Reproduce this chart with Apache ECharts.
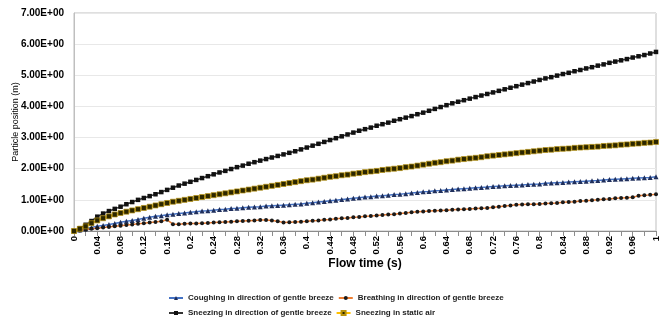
<!DOCTYPE html>
<html>
<head>
<meta charset="utf-8">
<script src="https://cdn.jsdelivr.net/npm/echarts@6/dist/echarts.min.js"></script>
<style>
  html, body { margin: 0; padding: 0; background: #fff; }
  #chart { width: 667px; height: 321px; }
</style>
</head>
<body>
<div id="chart"></div>
<script>
// Flow time (s), sampled every 0.01 s
const flowTime = [];
for (let i = 0; i <= 100; i++) flowTime.push(String(+(i / 100).toFixed(2)));

// Particle position (m) for each case
const coughingBreeze = [
  0, 0.03, 0.07, 0.11, 0.15, 0.18, 0.21, 0.24, 0.28, 0.31,
  0.34, 0.37, 0.41, 0.44, 0.47, 0.49, 0.52, 0.54, 0.56, 0.58,
  0.60, 0.62, 0.64, 0.65, 0.67, 0.69, 0.70, 0.72, 0.73, 0.75,
  0.76, 0.77, 0.78, 0.80, 0.81, 0.82, 0.83, 0.84, 0.86, 0.87,
  0.89, 0.91, 0.93, 0.95, 0.97, 0.99, 1.01, 1.03, 1.05, 1.07,
  1.09, 1.10, 1.12, 1.13, 1.15, 1.17, 1.18, 1.20, 1.22, 1.24,
  1.26, 1.27, 1.29, 1.30, 1.32, 1.33, 1.35, 1.36, 1.37, 1.39,
  1.40, 1.41, 1.43, 1.44, 1.45, 1.46, 1.47, 1.48, 1.49, 1.50,
  1.51, 1.53, 1.54, 1.55, 1.56, 1.57, 1.58, 1.59, 1.60, 1.61,
  1.62, 1.64, 1.65, 1.66, 1.67, 1.68, 1.69, 1.70, 1.71, 1.72,
  1.74
];
const breathingBreeze = [
  0, 0.02, 0.04, 0.07, 0.09, 0.11, 0.13, 0.15, 0.17, 0.19,
  0.21, 0.23, 0.25, 0.27, 0.29, 0.31, 0.36, 0.22, 0.22, 0.23,
  0.24, 0.24, 0.25, 0.26, 0.27, 0.28, 0.29, 0.30, 0.31, 0.32,
  0.33, 0.34, 0.35, 0.35, 0.34, 0.31, 0.27, 0.28, 0.29, 0.30,
  0.31, 0.33, 0.34, 0.36, 0.37, 0.39, 0.41, 0.42, 0.44, 0.45,
  0.47, 0.48, 0.50, 0.51, 0.53, 0.54, 0.56, 0.58, 0.60, 0.62,
  0.63, 0.64, 0.65, 0.66, 0.67, 0.68, 0.69, 0.70, 0.71, 0.72,
  0.73, 0.74, 0.76, 0.78, 0.80, 0.82, 0.84, 0.85, 0.86, 0.86,
  0.87, 0.88, 0.89, 0.90, 0.92, 0.93, 0.94, 0.96, 0.97, 0.99,
  1.00, 1.02, 1.03, 1.05, 1.06, 1.07, 1.08, 1.13, 1.15, 1.16,
  1.18
];
const sneezingBreeze = [
  0, 0.09, 0.20, 0.32, 0.46, 0.56, 0.64, 0.71, 0.78, 0.86,
  0.93, 1.00, 1.06, 1.12, 1.18, 1.25, 1.32, 1.39, 1.46, 1.52,
  1.58, 1.64, 1.70, 1.76, 1.82, 1.88, 1.93, 1.99, 2.05, 2.10,
  2.16, 2.21, 2.26, 2.31, 2.36, 2.41, 2.46, 2.51, 2.56, 2.62,
  2.68, 2.74, 2.80, 2.86, 2.92, 2.98, 3.04, 3.10, 3.16, 3.22,
  3.27, 3.32, 3.38, 3.43, 3.48, 3.54, 3.59, 3.64, 3.69, 3.75,
  3.80, 3.86, 3.92, 3.98, 4.04, 4.10, 4.15, 4.20, 4.25, 4.30,
  4.35, 4.40, 4.45, 4.50, 4.55, 4.60, 4.65, 4.70, 4.75, 4.80,
  4.85, 4.90, 4.94, 4.99, 5.04, 5.08, 5.13, 5.17, 5.22, 5.26,
  5.31, 5.35, 5.40, 5.44, 5.48, 5.52, 5.57, 5.61, 5.65, 5.70,
  5.75
];
const sneezingStatic = [
  0, 0.07, 0.15, 0.25, 0.34, 0.41, 0.47, 0.53, 0.58, 0.62,
  0.66, 0.70, 0.74, 0.78, 0.82, 0.86, 0.90, 0.94, 0.97, 1.00,
  1.03, 1.06, 1.09, 1.12, 1.15, 1.18, 1.21, 1.24, 1.27, 1.30,
  1.33, 1.36, 1.39, 1.42, 1.45, 1.48, 1.51, 1.54, 1.57, 1.60,
  1.63, 1.65, 1.68, 1.71, 1.74, 1.76, 1.79, 1.81, 1.84, 1.86,
  1.89, 1.91, 1.93, 1.96, 1.98, 2.00, 2.02, 2.05, 2.07, 2.10,
  2.13, 2.16, 2.19, 2.21, 2.24, 2.26, 2.29, 2.31, 2.33, 2.35,
  2.37, 2.40, 2.42, 2.44, 2.46, 2.48, 2.50, 2.52, 2.54, 2.56,
  2.58, 2.60, 2.61, 2.63, 2.64, 2.65, 2.67, 2.68, 2.69, 2.70,
  2.71, 2.73, 2.74, 2.75, 2.77, 2.78, 2.80, 2.81, 2.83, 2.84,
  2.86
];

const seriesNames = [
  'Coughing in direction of gentle breeze',
  'Breathing in direction of gentle breeze',
  'Sneezing in direction of gentle breeze',
  'Sneezing in static air'
];

const FONT = '"Liberation Sans", Arial, sans-serif';

const chart = echarts.init(document.getElementById('chart'), null, { renderer: 'canvas' });

function lineSeries(name, data, lineColor, symbol, size, fill, border, borderWidth) {
  return {
    name: name,
    type: 'line',
    data: data,
    symbol: symbol,
    symbolSize: size,
    showSymbol: true,
    showAllSymbol: true,
    animation: false,
    lineStyle: { color: lineColor, width: 1.5 },
    itemStyle: { color: fill, borderColor: border, borderWidth: border ? borderWidth : 0 }
  };
}

const legendText = { fontFamily: FONT, fontSize: 8, fontWeight: 'bold', color: '#222' };

chart.setOption({
  backgroundColor: '#ffffff',
  animation: false,
  grid: {
    left: 74, right: 11, top: 13, bottom: 90,
    containLabel: false,
    outerBoundsMode: 'none',
    show: true, borderColor: '#bfbfbf', borderWidth: 1
  },
  legend: [
    {
      data: [seriesNames[0], seriesNames[1]],
      left: 163, top: 289,
      itemWidth: 14, itemHeight: 5, itemGap: 4,
      textStyle: legendText
    },
    {
      data: [seriesNames[2], seriesNames[3]],
      left: 163, top: 304,
      itemWidth: 14, itemHeight: 5, itemGap: 4,
      textStyle: legendText
    }
  ],
  xAxis: {
    type: 'category',
    data: flowTime,
    boundaryGap: false,
    name: 'Flow time (s)',
    nameLocation: 'middle',
    nameGap: 27,
    nameMoveOverlap: false,
    nameTextStyle: { fontFamily: FONT, fontSize: 12, fontWeight: 'bold', color: '#000' },
    axisLine: { lineStyle: { color: '#8c8c8c' } },
    axisTick: { show: true, interval: 1, length: 5, lineStyle: { color: '#8c8c8c' } },
    axisLabel: {
      interval: 3, rotate: 90, margin: 5,
      fontFamily: FONT, fontSize: 9.5, fontWeight: 'bold', color: '#000'
    },
    splitLine: { show: false }
  },
  yAxis: {
    type: 'value',
    min: 0, max: 7, interval: 1,
    name: 'Particle position (m)',
    nameLocation: 'middle',
    nameGap: 54,
    nameMoveOverlap: false,
    nameTextStyle: { fontFamily: FONT, fontSize: 9, color: '#000' },
    axisLine: { show: true, lineStyle: { color: '#bfbfbf' } },
    axisTick: { show: false },
    axisLabel: {
      fontFamily: FONT, fontSize: 10, fontWeight: 'bold', color: '#000', margin: 10,
      formatter: v => v.toFixed(2) + 'E+00'
    },
    splitLine: { lineStyle: { color: '#e8e8e8' } }
  },
  series: [
    lineSeries(seriesNames[0], coughingBreeze, '#4472C4', 'triangle', 5, '#1f2f5c', null, 0),
    lineSeries(seriesNames[1], breathingBreeze, '#ED7D31', 'circle', 4, '#1a1a1a', null, 0),
    lineSeries(seriesNames[2], sneezingBreeze, '#333333', 'rect', 4.5, '#111111', null, 0),
    lineSeries(seriesNames[3], sneezingStatic, '#FFC000', 'rect', 5, '#2b2600', '#B8920A', 0.7)
  ]
});
</script>
</body>
</html>
